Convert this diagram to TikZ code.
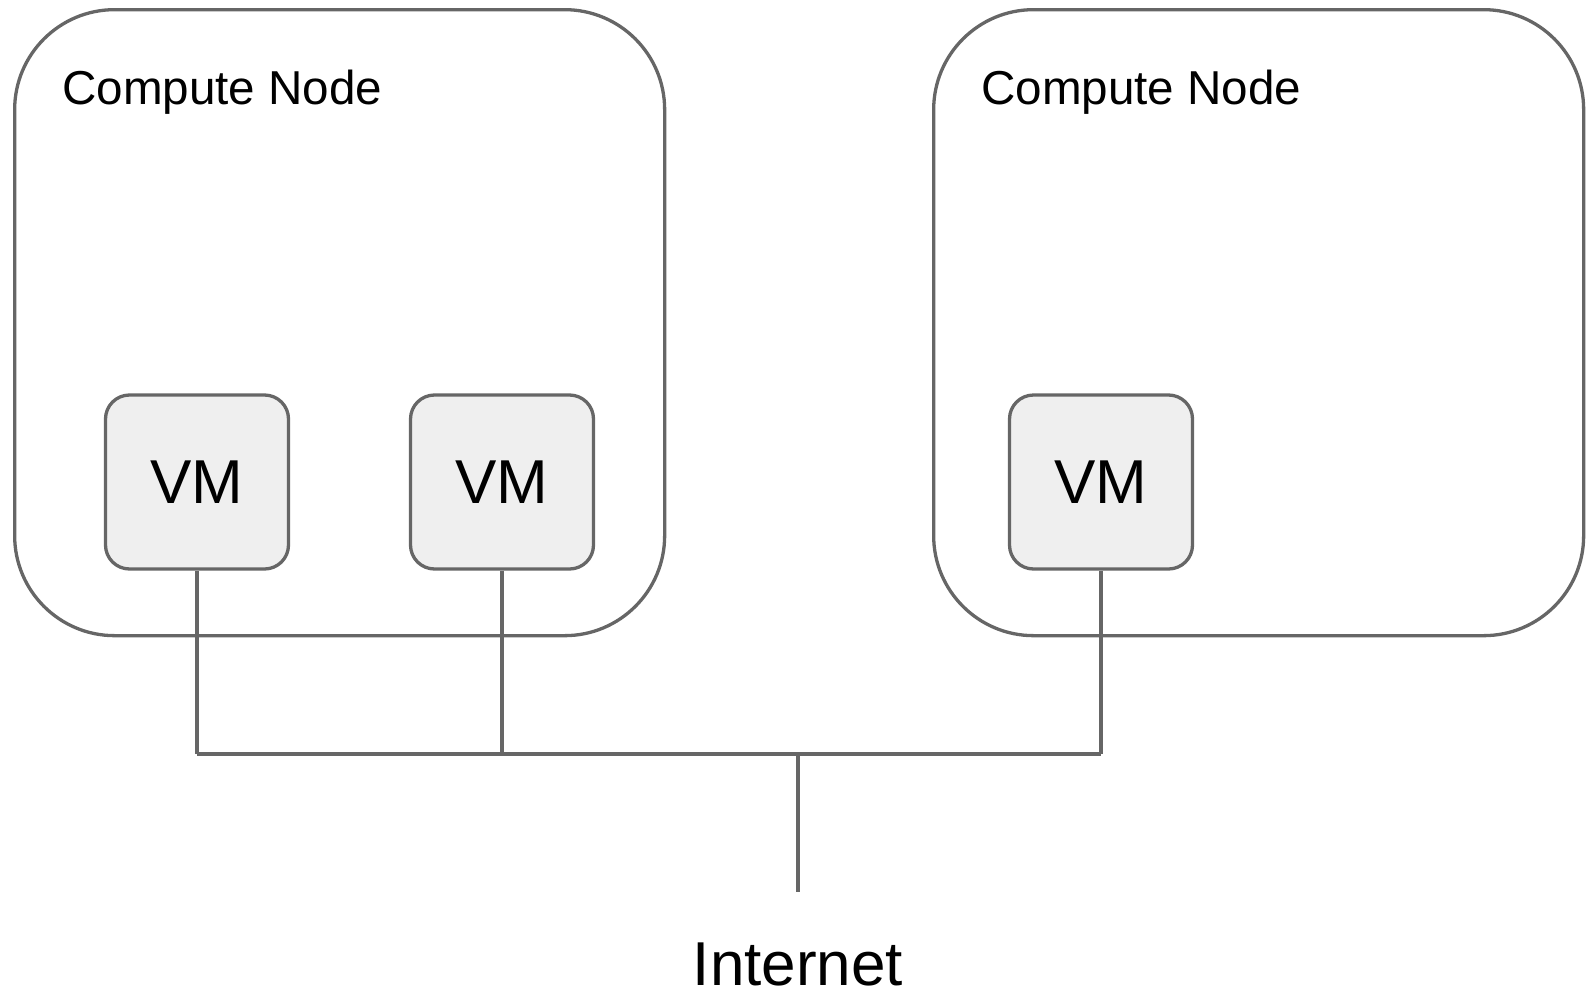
\documentclass[tikz,border=0pt]{standalone}
\usepackage{fontspec}
\setmainfont{Liberation Sans}
\definecolor{edge}{HTML}{666666}
\definecolor{vmfill}{HTML}{EFEFEF}
\begin{document}
\begin{tikzpicture}[x=1pt,y=-1pt,
  hostbox/.style={draw=edge, line width=3.3pt, rounded corners=100pt,
    minimum width=650pt, minimum height=626pt, anchor=north west, inner sep=0pt},
  vmbox/.style={draw=edge, fill=vmfill, line width=3.3pt, rounded corners=24pt,
    minimum width=183pt, minimum height=174pt, inner sep=0pt,
    font=\fontsize{62}{70}\selectfont},
  hostlabel/.style={anchor=base west, inner sep=0pt,
    font=\fontsize{47.6}{57}\selectfont},
  wire/.style={draw=edge, line width=3.3pt}]
\useasboundingbox (0,0) rectangle (1586,993);

% compute hosts
\node[hostbox] (hostA) at (13,8) {};
\node[hostbox] (hostB) at (932,8) {};
\node[hostlabel] (labelA) at (62,104) {Compute Node};
\node[hostlabel] (labelB) at (981,104) {Compute Node};

% virtual machines
\node[vmbox] (vm1) at (197,482) {VM};
\node[vmbox] (vm2) at (502,482) {VM};
\node[vmbox] (vm3) at (1101,482) {VM};

% shared network
\coordinate (bus) at (798,754);
\coordinate (uplink) at (798,892);
\node[anchor=base, inner sep=0pt, font=\fontsize{62}{70}\selectfont] (inet) at (798,985) {Internet};

\draw[wire] (vm1.south) -- (vm1.south |- bus);
\draw[wire] (vm2.south) -- (vm2.south |- bus);
\draw[wire] (vm3.south) -- (vm3.south |- bus);
\draw[wire] (vm1.south |- bus) -- (vm3.south |- bus);
\draw[wire] (bus) -- (uplink);
\end{tikzpicture}
\end{document}
